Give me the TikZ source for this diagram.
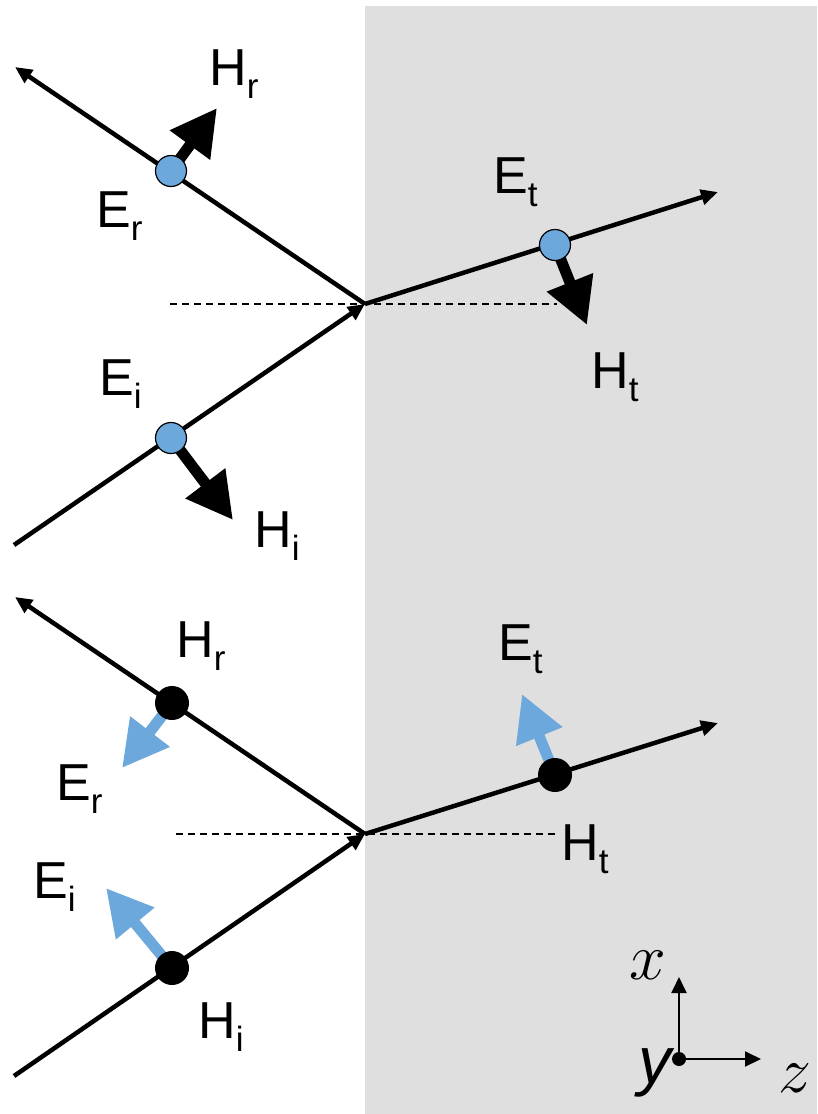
\RequirePackage{fix-cm}
\documentclass[tikz,border=0pt]{standalone}
\usepackage{fontspec}
\setmainfont{Liberation Sans}
\usetikzlibrary{arrows.meta}
\definecolor{lightblue}{RGB}{108,168,220}
\definecolor{slab}{RGB}{223,223,223}
\newcommand\lbl[2]{#1\raisebox{-13pt}{\fontsize{35}{35}\selectfont #2}}
\begin{document}
\begin{tikzpicture}[x=1pt,y=-1pt,
  ray/.style={line width=4.5pt,-{Triangle[length=17pt,width=15pt]}},
  normalline/.style={line width=1.3pt,dash pattern=on 7pt off 5pt},
  fieldarrow/.style={line width=11pt,-{Triangle[length=46pt,width=47pt]}},
  bluedot/.style={circle,draw=black,line width=1.2pt,fill=lightblue,minimum size=31pt,inner sep=0pt},
  blackdot/.style={circle,fill=black,minimum size=34pt,inner sep=0pt},
  lab/.style={anchor=base west,inner sep=0pt,font=\fontsize{52}{52}\selectfont},
  axis/.style={line width=2pt,-{Triangle[length=16pt,width=15pt]}}]
\useasboundingbox (0,0) rectangle (817,1114);
\fill[slab] (365,6) rectangle (817,1114);

% ---------- top diagram ----------
\coordinate (o1) at (365,304);
\coordinate (i1) at (14,545);
\coordinate (r1) at (15,67);
\coordinate (t1) at (718,192);
\coordinate (n1a) at (170,304);
\coordinate (n1b) at (557,304);
\draw[normalline] (n1a) -- (n1b);
\draw[ray] (i1) -- (o1);
\draw[ray] (o1) -- (r1);
\draw[ray] (o1) -- (t1);

\coordinate (hr1) at (171,171);
\coordinate (hi1) at (171,438);
\coordinate (ht1) at (555,245);
\coordinate (hr1tip) at (217,108);
\coordinate (hi1tip) at (233,520);
\coordinate (ht1tip) at (587,325);
\draw[fieldarrow] (hr1) -- (hr1tip);
\draw[fieldarrow] (hi1) -- (hi1tip);
\draw[fieldarrow] (ht1) -- (ht1tip);
\node[bluedot] (er1) at (hr1) {};
\node[bluedot] (ei1) at (hi1) {};
\node[bluedot] (et1) at (ht1) {};

\node[lab] (lhr1) at (209,85) {\lbl{H}{r}};
\node[lab] (ler1) at (96,227) {\lbl{E}{r}};
\node[lab] (lei1) at (99,395) {\lbl{E}{i}};
\node[lab] (lhi1) at (254,547) {\lbl{H}{i}};
\node[lab] (let1) at (493,193) {\lbl{E}{t}};
\node[lab] (lht1) at (591,388) {\lbl{H}{t}};

% ---------- bottom diagram ----------
\coordinate (o2) at (365,834);
\coordinate (i2) at (14,1076);
\coordinate (r2) at (15,597);
\coordinate (t2) at (718,723);
\coordinate (n2a) at (176,834);
\coordinate (n2b) at (557,834);
\draw[normalline] (n2a) -- (n2b);
\draw[ray] (i2) -- (o2);
\draw[ray] (o2) -- (r2);
\draw[ray] (o2) -- (t2);

\coordinate (p2r) at (172,703);
\coordinate (p2i) at (172,968);
\coordinate (p2t) at (555,775);
\coordinate (er2tip) at (122,768);
\coordinate (ei2tip) at (106,888);
\coordinate (et2tip) at (522,694);
\draw[fieldarrow,lightblue] (p2r) -- (er2tip);
\draw[fieldarrow,lightblue] (p2i) -- (ei2tip);
\draw[fieldarrow,lightblue] (p2t) -- (et2tip);
\node[blackdot] (hr2) at (p2r) {};
\node[blackdot] (hi2) at (p2i) {};
\node[blackdot] (ht2) at (p2t) {};

\node[lab] (lhr2) at (176,657) {\lbl{H}{r}};
\node[lab] (ler2) at (56,800) {\lbl{E}{r}};
\node[lab] (lei2) at (33,898) {\lbl{E}{i}};
\node[lab] (lhi2) at (198,1038) {\lbl{H}{i}};
\node[lab] (let2) at (498,660) {\lbl{E}{t}};
\node[lab] (lht2) at (561,860) {\lbl{H}{t}};

% ---------- axes ----------
\node[circle,fill=black,minimum size=14pt,inner sep=0pt] (orig) at (679,1059) {};
\coordinate (xtip) at (679,977);
\coordinate (ztip) at (761,1059);
\draw[axis] (orig.center) -- (xtip);
\draw[axis] (orig.center) -- (ztip);
\node[inner sep=0pt,font=\fontsize{66}{66}\selectfont] (xl) at (648,965) {$x$};
\node[inner sep=0pt,font=\fontsize{66}{66}\selectfont] (zl) at (795,1078) {$z$};
\node[inner sep=0pt,anchor=base east,font=\fontsize{66}{66}\selectfont\itshape] (yl) at (672,1083) {y};
\end{tikzpicture}
\end{document}
